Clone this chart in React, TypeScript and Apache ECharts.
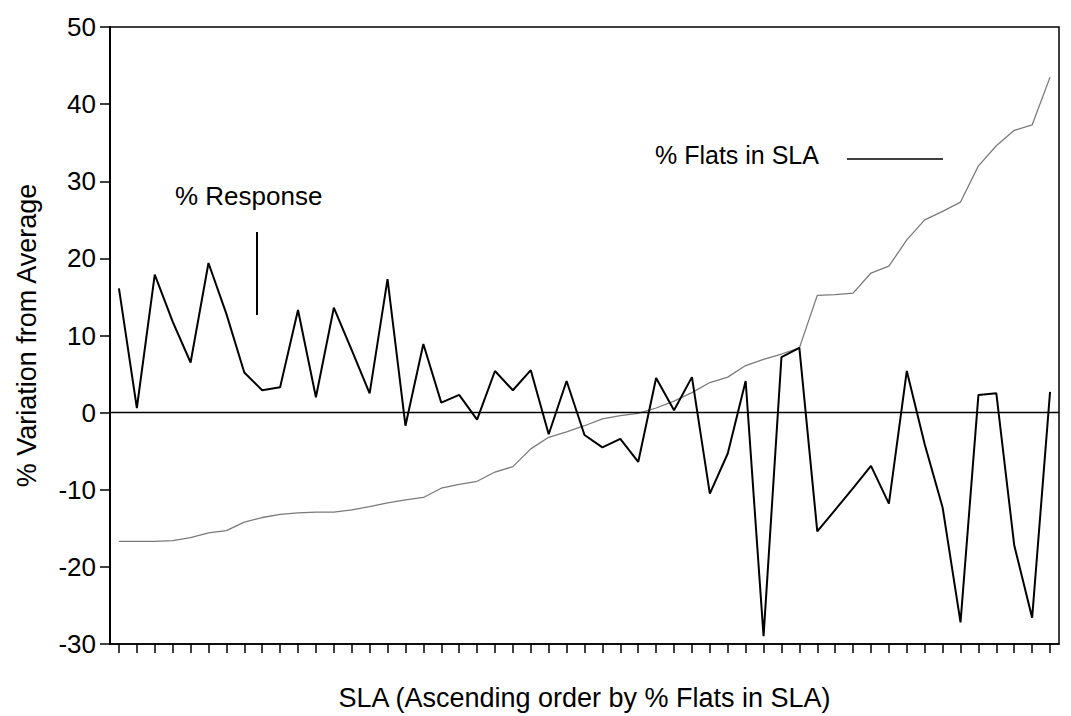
import React, { useEffect, useRef } from "react";
import * as echarts from "echarts";

const slaCount = 53;
const categories: string[] = Array.from({ length: slaCount }, (_, i) => `SLA ${i + 1}`);

const responseValues: number[] = [
  16.1, 0.6, 17.9, 11.8, 6.5, 19.4, 12.8, 5.2, 2.9, 3.3,
  13.3, 2.0, 13.6, 8.1, 2.5, 17.3, -1.7, 8.9, 1.3, 2.3,
  -0.9, 5.4, 2.9, 5.5, -2.8, 4.1, -2.9, -4.5, -3.4, -6.4,
  4.5, 0.3, 4.6, -10.5, -5.3, 4.1, -29.0, 7.2, 8.4, -15.4,
  -12.6, -9.8, -6.9, -11.8, 5.4, -4.1, -12.3, -27.2, 2.3, 2.5,
  -17.2, -26.6, 2.7,
];

const flatsValues: number[] = [
  -16.7, -16.7, -16.7, -16.6, -16.2, -15.6, -15.3, -14.2, -13.6, -13.2,
  -13.0, -12.9, -12.9, -12.6, -12.2, -11.7, -11.3, -11.0, -9.8, -9.3,
  -8.9, -7.7, -7.0, -4.7, -3.2, -2.5, -1.7, -0.8, -0.4, -0.1,
  0.6, 1.5, 2.6, 3.9, 4.6, 6.1, 6.9, 7.6, 8.4, 15.2,
  15.3, 15.5, 18.1, 19.0, 22.4, 25.0, 26.1, 27.3, 32.0, 34.6,
  36.6, 37.3, 43.5,
];

const yMin = -30;
const yMax = 50;
const yInterval = 10;

const FONT = "'Liberation Sans', Arial, Helvetica, sans-serif";

export default function App() {
  const ref = useRef<HTMLDivElement>(null);

  useEffect(() => {
    if (!ref.current) return;
    const chart = echarts.init(ref.current, undefined, { renderer: "svg" });
    chart.setOption({
      animation: false,
      backgroundColor: "#fff",
      textStyle: { fontFamily: FONT },
      grid: {
        left: 110,
        right: 12,
        top: 27,
        bottom: 70,
        show: true,
        borderColor: "#000",
        borderWidth: 1.5,
        backgroundColor: "transparent",
      },
      xAxis: {
        type: "category",
        data: categories,
        boundaryGap: true,
        name: "SLA (Ascending order by % Flats in SLA)",
        nameLocation: "middle",
        nameGap: 40,
        nameTextStyle: { fontSize: 27, color: "#000", fontFamily: FONT },
        axisLine: { show: true, onZero: false, lineStyle: { color: "#000", width: 1.5 } },
        axisTick: {
          show: true,
          alignWithLabel: true,
          interval: 0,
          length: 9,
          lineStyle: { color: "#000", width: 1.5 },
        },
        axisLabel: { show: false, interval: 0 },
        splitLine: { show: false },
      },
      yAxis: {
        type: "value",
        min: yMin,
        max: yMax,
        interval: yInterval,
        name: "% Variation from Average",
        nameLocation: "middle",
        nameGap: 70,
        nameTextStyle: { fontSize: 27, color: "#000", fontFamily: FONT },
        axisLine: { show: true, lineStyle: { color: "#000", width: 2 } },
        axisTick: { show: true, length: 10, lineStyle: { color: "#000", width: 1.5 } },
        axisLabel: { color: "#000", fontSize: 26, margin: 14, fontFamily: FONT },
        splitLine: { show: false },
      },
      series: [
        {
          name: "% Flats in SLA",
          type: "line",
          data: flatsValues,
          symbol: "none",
          lineStyle: { color: "#7a7a7a", width: 1.3 },
          z: 2,
        },
        {
          name: "% Response",
          type: "line",
          data: responseValues,
          symbol: "none",
          lineStyle: { color: "#000", width: 2 },
          z: 3,
          markLine: {
            silent: true,
            symbol: "none",
            label: { show: false },
            lineStyle: { color: "#000", width: 1.3, type: "solid" },
            data: [{ yAxis: 0 }],
          },
        },
      ],
      graphic: [
        {
          type: "text",
          left: 175,
          top: 183,
          style: { text: "% Response", fontSize: 26, fill: "#000", fontFamily: FONT },
        },
        {
          type: "line",
          shape: { x1: 257, y1: 232, x2: 257, y2: 315 },
          style: { stroke: "#000", lineWidth: 2 },
        },
        {
          type: "text",
          left: 655,
          top: 142,
          style: { text: "% Flats in SLA", fontSize: 25, fill: "#000", fontFamily: FONT },
        },
        {
          type: "line",
          shape: { x1: 847, y1: 159, x2: 943, y2: 159 },
          style: { stroke: "#000", lineWidth: 1.5 },
        },
      ],
    });
    return () => chart.dispose();
  }, []);

  return (
    <div
      ref={ref}
      style={{ position: "absolute", left: 0, top: 0, width: 1071, height: 716 }}
    />
  );
}
